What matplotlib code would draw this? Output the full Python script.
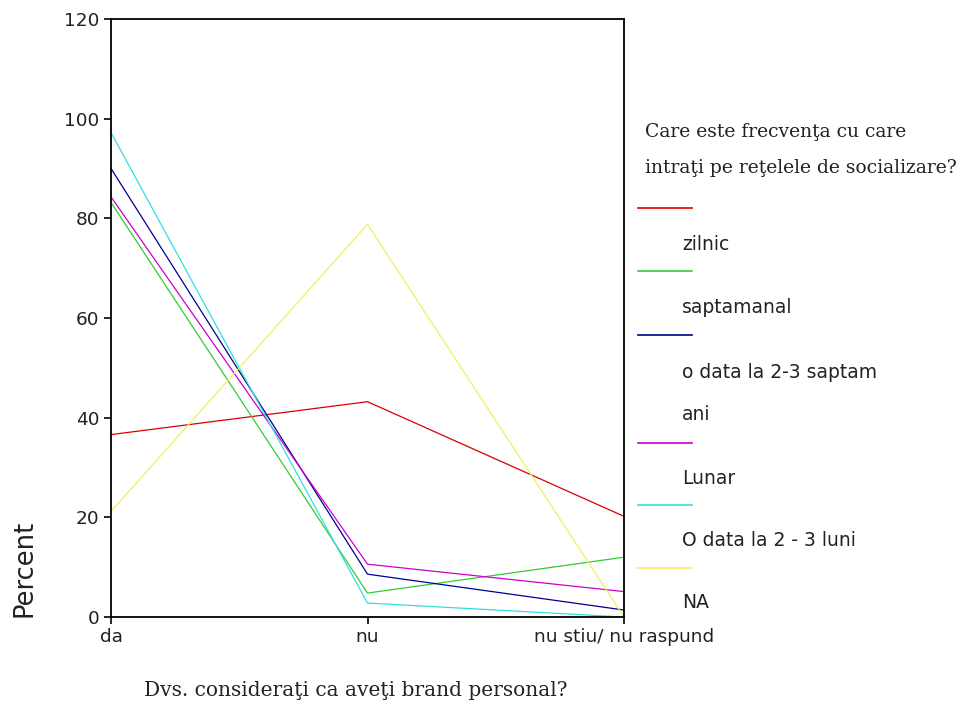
import matplotlib
matplotlib.use("Agg")
import matplotlib.pyplot as plt
from matplotlib.lines import Line2D

categories = ["da", "nu", "nu stiu/ nu raspund"]
y_ticks = [0, 20, 40, 60, 80, 100, 120]

zilnic = [36.6, 43.2, 20.2]
saptamanal = [83.2, 4.8, 12.0]
o_data_2_3_saptamani = [90.0, 8.6, 1.4]
lunar = [84.3, 10.6, 5.1]
o_data_2_3_luni = [97.2, 2.8, 0.0]
na = [21.2, 78.8, 0.0]

series_names = ["zilnic", "saptamanal", "o data la 2-3 saptam\nani", "Lunar",
                "O data la 2 - 3 luni", "NA"]
series_values = [zilnic, saptamanal, o_data_2_3_saptamani, lunar, o_data_2_3_luni, na]
colors = ["#d80000", "#33cc33", "#000090", "#cc00cc", "#33dede", "#f0f060"]

legend_title = "Care este frecvenţa cu care\nintraţi pe reţelele de socializare?"
x_title = "Dvs. consideraţi ca aveţi brand personal?"
y_title = "Percent"

SANS = ["DejaVu Sans"]
SERIF = ["DejaVu Serif"]
TXT = "#222222"

W, H = 964, 706
fig = plt.figure(figsize=(W / 100, H / 100), dpi=100)
fig.patch.set_facecolor("white")

left, right, top, bottom = 111, 624, 19, 617
ax = fig.add_axes([left / W, 1 - bottom / H, (right - left) / W, (bottom - top) / H])

x = list(range(len(categories)))
for vals, c in zip(series_values, colors):
    ax.plot(x, vals, color=c, lw=0.9, solid_joinstyle="miter")

ax.set_xlim(0, len(categories) - 1)
ax.set_ylim(0, 120)
ax.set_yticks(y_ticks)
ax.set_yticklabels([str(v) for v in y_ticks])
ax.set_xticks(x)
ax.set_xticklabels(categories)
for s in ax.spines.values():
    s.set_linewidth(1.3)
    s.set_color("black")
ax.tick_params(axis="both", direction="out", length=5, width=1.2, labelsize=13.3,
               colors="black")
ax.tick_params(axis="x", pad=3)
for lab in ax.get_xticklabels() + ax.get_yticklabels():
    lab.set_family(SANS)
    lab.set_color(TXT)

fig.text(24 / W, 1 - 568 / H, y_title, rotation=90, ha="center", va="center",
         fontsize=18.5, family=SANS, color=TXT)
fig.text(356 / W, 1 - 690 / H, x_title, ha="center", va="center",
         fontsize=14.5, family=SERIF, color=TXT)

# Legend drawn manually to mimic the original layout
title_lines = legend_title.split("\n")
fig.text(645 / W, 1 - 132 / H, title_lines[0], ha="left", va="center",
         fontsize=13.5, family=SERIF, color=TXT)
fig.text(645 / W, 1 - 168 / H, title_lines[1], ha="left", va="center",
         fontsize=13.5, family=SERIF, color=TXT)

line_ys = [208, 271, 335, 443, 505, 568]
label_ys = [245, 308, 372, 478, 540, 603]
for name, c, ly, ty in zip(series_names, colors, line_ys, label_ys):
    fig.add_artist(Line2D([638 / W, 692 / W], [1 - ly / H, 1 - ly / H], color=c, lw=1.2,
                          transform=fig.transFigure))
    lines = name.split("\n")
    fig.text(682 / W, 1 - ty / H, lines[0], ha="left", va="center", fontsize=13.5,
             family=SANS, color=TXT)
    if len(lines) > 1:
        fig.text(682 / W, 1 - 414 / H, lines[1], ha="left", va="center", fontsize=13.5,
                 family=SANS, color=TXT)

fig.savefig("out.png", dpi=100, facecolor="white")
